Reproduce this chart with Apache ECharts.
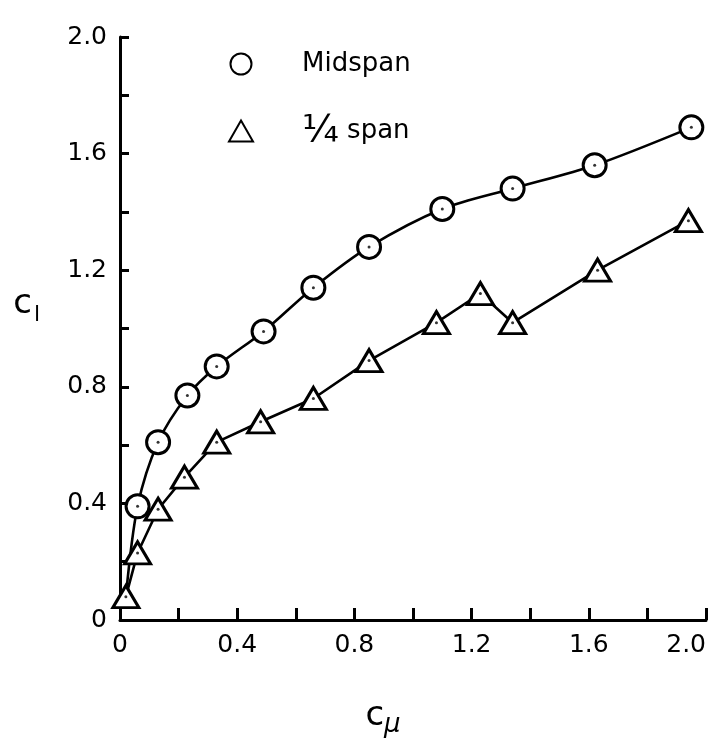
<!DOCTYPE html>
<html>
<head>
<meta charset="utf-8">
<script src="https://cdn.jsdelivr.net/npm/echarts@6.0.0/dist/echarts.min.js"></script>
<style>
  html, body { margin: 0; padding: 0; background: #fff; }
  #chart { width: 718px; height: 738px; }
</style>
</head>
<body>
<div id="chart"></div>
<script>
// c_mu values and c_l values
const midX = [0.02, 0.06, 0.13, 0.23, 0.33, 0.49, 0.66, 0.85, 1.10, 1.34, 1.62, 1.95];
const midY = [0.08, 0.39, 0.61, 0.77, 0.87, 0.99, 1.14, 1.28, 1.41, 1.48, 1.56, 1.69];
const quarterX = [0.02, 0.06, 0.13, 0.22, 0.33, 0.48, 0.66, 0.85, 1.08, 1.23, 1.34, 1.63, 1.94];
const quarterY = [0.08, 0.23, 0.38, 0.49, 0.61, 0.68, 0.76, 0.89, 1.02, 1.12, 1.02, 1.20, 1.37];
const seriesNames = ['Midspan', '1/4 span'];

const font = 'DejaVu Sans';

let midData = midX.map(function (x, i) {
    // first point sits under the 1/4 span triangle, no circle drawn there
    if (i === 0) return {value: [x, midY[i]], symbol: 'none'};
    return [x, midY[i]];
});
let quarterData = quarterX.map(function (x, i) {
    return [x, quarterY[i]];
});
let dotData = midData.slice(1).concat(quarterData);

function tickLabel(v) {
    if (Math.abs(v) < 1e-9) return '0';
    if (Math.abs(Math.round(v / 0.4) * 0.4 - v) > 1e-6) return '';
    return v.toFixed(1);
}

let option = {
    backgroundColor: '#fff',
    animation: false,
    grid: {left: 120, top: 37, width: 586, height: 583, outerBoundsMode: 'none', containLabel: false},
    legend: {
        orient: 'vertical',
        left: 223,
        top: 46,
        itemGap: 35,
        itemWidth: 24,
        itemHeight: 21,
        data: [
            {name: seriesNames[0], icon: 'circle'},
            {name: seriesNames[1], icon: 'triangle'}
        ],
        formatter: function (name) {
            return name === '1/4 span' ? '{f|\u00BC} span' : name;
        },
        textStyle: {
            fontFamily: font,
            fontSize: 26,
            color: '#000',
            padding: [0, 0, 0, 44],
            rich: {
                f: {fontFamily: font, fontSize: 38, color: '#000'}
            }
        }
    },
    xAxis: {
        type: 'value',
        min: 0,
        max: 2.0,
        interval: 0.2,
        name: '{c|c}{s|\u03BC}',
        nameLocation: 'middle',
        nameGap: 74,
        nameTextStyle: {
            padding: [0, 60, 0, 0],
            rich: {
                c: {fontFamily: font, fontSize: 34, color: '#000'},
                s: {fontFamily: font, fontSize: 26, fontStyle: 'italic', color: '#000', padding: [18, 0, 0, 0]}
            }
        },
        axisLine: {lineStyle: {color: '#000', width: 3}},
        axisTick: {inside: true, length: 12, lineStyle: {color: '#000', width: 3}},
        axisLabel: {
            formatter: tickLabel,
            fontFamily: font,
            fontSize: 25,
            color: '#000',
            margin: 13,
            alignMaxLabel: 'right'
        },
        splitLine: {show: false}
    },
    yAxis: {
        type: 'value',
        min: 0,
        max: 2.0,
        interval: 0.2,
        name: '{c|c}{s|l}',
        nameLocation: 'middle',
        nameRotate: 0,
        nameGap: 80,
        nameTextStyle: {
            padding: [0, 0, 48, 0],
            rich: {
                c: {fontFamily: font, fontSize: 34, color: '#000'},
                s: {fontFamily: font, fontSize: 22, color: '#000', padding: [22, 0, 0, 2]}
            }
        },
        axisLine: {lineStyle: {color: '#000', width: 3}},
        axisTick: {inside: true, length: 9, lineStyle: {color: '#000', width: 3}},
        axisLabel: {
            formatter: tickLabel,
            fontFamily: font,
            fontSize: 25,
            color: '#000',
            margin: 13
        },
        splitLine: {show: false}
    },
    series: [
        {
            name: seriesNames[0],
            type: 'line',
            data: midData,
            smooth: 0.3,
            symbol: 'circle',
            symbolSize: 23,
            lineStyle: {color: '#000', width: 2.6},
            itemStyle: {color: '#fff', borderColor: '#000', borderWidth: 3},
            z: 3
        },
        {
            name: seriesNames[1],
            type: 'line',
            data: quarterData,
            symbol: 'triangle',
            symbolSize: [26, 22],
            lineStyle: {color: '#000', width: 2.6},
            itemStyle: {color: '#fff', borderColor: '#000', borderWidth: 3},
            z: 4
        },
        {
            name: 'dots',
            type: 'scatter',
            data: dotData,
            symbol: 'circle',
            symbolSize: 3,
            itemStyle: {color: '#000'},
            silent: true,
            z: 5
        }
    ]
};

let chart = echarts.init(document.getElementById('chart'));
chart.setOption(option);
</script>
</body>
</html>
